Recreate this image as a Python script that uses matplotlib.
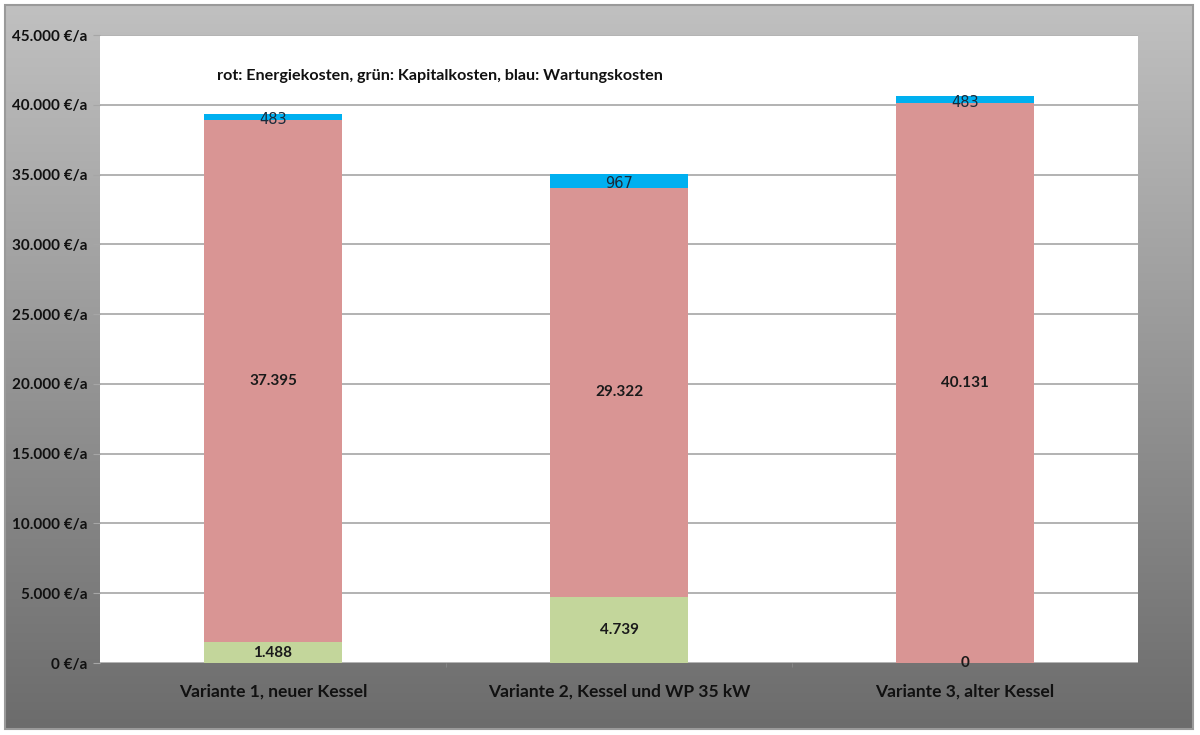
import matplotlib.pyplot as plt
import numpy as np
from matplotlib.patches import Rectangle

# Kosten je Variante in €/a
categories = ['Variante 1, neuer Kessel', 'Variante 2, Kessel und WP 35 kW', 'Variante 3, alter Kessel']
kapitalkosten = [1488, 4739, 0]
energiekosten = [37395, 29322, 40131]
wartungskosten = [483, 967, 483]
yticks = [0, 5000, 10000, 15000, 20000, 25000, 30000, 35000, 40000, 45000]


def fmt_de(v):
    return f"{v:,.0f}".replace(',', '.')


plt.rcParams['font.family'] = ['Lato', 'DejaVu Sans']

fig = plt.figure(figsize=(12, 7.35), dpi=100)

# grauer Verlaufshintergrund mit Rahmen
bg = fig.add_axes([0, 0, 1, 1], zorder=0)
bg.set_xlim(0, 1200)
bg.set_ylim(735, 0)
bg.axis('off')
grad = np.linspace(192, 108, 256)[:, None] / 255.0
bg.imshow(np.dstack([grad, grad, grad]), extent=[5, 1193, 729, 5], aspect='auto')
bg.add_patch(Rectangle((5, 5), 1188, 724, fill=False, edgecolor='#9a9a9a', lw=1.5))

ax = fig.add_axes([100 / 1200, 1 - 663 / 735, 1038 / 1200, 628 / 735], zorder=1)
ax.set_facecolor('white')

x = np.arange(len(categories))
w = 0.40
red = '#d99594'
green = '#c3d69b'
blue = '#00b0f0'

bottom2 = np.array(kapitalkosten)
bottom3 = bottom2 + np.array(energiekosten)
ax.bar(x, kapitalkosten, w, color=green, zorder=3)
ax.bar(x, energiekosten, w, bottom=bottom2, color=red, zorder=3)
ax.bar(x, wartungskosten, w, bottom=bottom3, color=blue, zorder=3)

for i in range(len(categories)):
    gy = kapitalkosten[i] / 2 if kapitalkosten[i] > 0 else 0
    ax.text(x[i], gy, fmt_de(kapitalkosten[i]), ha='center', va='center',
            fontsize=11, fontweight='bold', color='#1a1a1a', zorder=4)
    ax.text(x[i], bottom2[i] + energiekosten[i] / 2, fmt_de(energiekosten[i]), ha='center',
            va='center', fontsize=11, fontweight='bold', color='#1a1a1a', zorder=4)
    ax.text(x[i], bottom3[i] + wartungskosten[i] / 2 - 200, fmt_de(wartungskosten[i]),
            ha='center', va='center', fontsize=10.5, color='#1a2a3a',
            family=['DejaVu Sans'], zorder=4)

ax.set_xlim(-0.5, 2.5)
ax.set_ylim(0, 45000)
ax.set_yticks(yticks)
ax.set_yticklabels([f"{fmt_de(v)} €/a" for v in yticks], fontsize=11, fontweight='bold',
                   color='#111111')
ax.yaxis.grid(True, color='#a6a6a6', lw=1.2, zorder=1)
ax.set_axisbelow(True)
ax.set_xticks(x)
ax.set_xticklabels(categories, fontsize=12.5, fontweight='bold', color='#111111')
ax.set_xticks([0.5, 1.5], minor=True)
ax.tick_params(axis='x', which='major', length=0, pad=15)
ax.tick_params(axis='x', which='minor', length=3, color='#8a8a8a')
ax.tick_params(axis='y', length=5, color='#a6a6a6', pad=4)
for s in ax.spines.values():
    s.set_visible(False)

ax.text(0.113, 0.935, 'rot: Energiekosten, grün: Kapitalkosten, blau: Wartungskosten',
        transform=ax.transAxes, fontsize=11.6, fontweight='bold', color='#111111',
        ha='left', va='center')

fig.savefig('out.png', dpi=100)
